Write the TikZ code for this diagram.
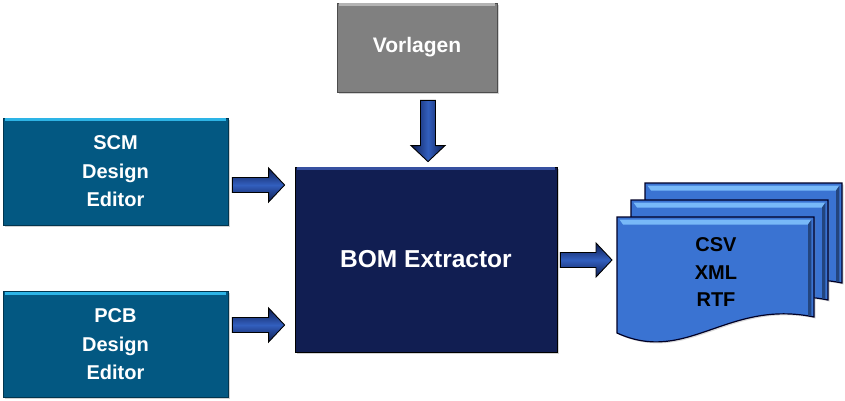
\documentclass[tikz,border=0pt]{standalone}
\usepackage{fontspec}
\setmainfont{Liberation Sans}
\usetikzlibrary{calc,shadows}
\definecolor{edblue}{RGB}{3,88,130}
\definecolor{edlight}{RGB}{45,180,230}
\definecolor{bomblue}{RGB}{17,30,82}
\definecolor{bomlight}{RGB}{55,80,160}
\definecolor{vgray}{RGB}{128,128,128}
\definecolor{vlight}{RGB}{180,180,180}
\definecolor{docblue}{RGB}{58,115,210}
\definecolor{doclight}{RGB}{120,185,248}
\definecolor{arrdark}{RGB}{14,28,80}
\definecolor{arrmid}{RGB}{50,95,190}
\tikzset{
  box/.style={rectangle, inner sep=0pt, align=center, text=white,
    font=\bfseries\fontsize{20}{28.5}\selectfont,
    drop shadow={shadow xshift=1.5pt, shadow yshift=-1.5pt, opacity=0.35}},
  editorbox/.style={box, fill=edblue, draw=edblue!60!black, line width=0.8pt},
  bombox/.style={box, fill=bomblue, draw=black, line width=0.8pt,
    font=\bfseries\fontsize{24.5}{28}\selectfont},
  vbox/.style={box, fill=vgray, draw=black!70, line width=0.8pt,
    font=\bfseries\fontsize{21}{26}\selectfont},
  blockarrowh/.style={draw=black, line width=0.9pt, line join=miter,
    top color=arrdark, bottom color=arrdark, middle color=arrmid},
  blockarrowv/.style={draw=black, line width=0.9pt, line join=miter,
    left color=arrdark, right color=arrdark, middle color=arrmid},
  docsheetstyle/.style={fill=docblue, draw=black!85!blue, line width=1.2pt,
    drop shadow={shadow xshift=1.5pt, shadow yshift=-1.5pt, opacity=0.3}},
  doctext/.style={inner sep=0pt, align=center, text=black,
    font=\bfseries\fontsize{20}{27.5}\selectfont}
}
\newcommand\bevelbox[2]{%
  \draw[#2, line width=3pt] ($(#1.north west)+(2,2.2)$) -- ($(#1.north east)+(-2,2.2)$);}
\newcommand\harrowpath[2]{%
  \draw[blockarrowh] ($(#1)+(0,-7.5)$) -- ($(#2)+(-16,-7.5)$) -- ($(#2)+(-16,-17)$)
    -- (#2) -- ($(#2)+(-16,17)$) -- ($(#2)+(-16,7.5)$) -- ($(#1)+(0,7.5)$) -- cycle;}
\newcommand\varrowpath[2]{%
  \draw[blockarrowv] ($(#1)+(-7.5,0)$) -- ($(#2)+(-7.5,-16)$) -- ($(#2)+(-17,-16)$)
    -- (#2) -- ($(#2)+(17,-16)$) -- ($(#2)+(7.5,-16)$) -- ($(#1)+(7.5,0)$) -- cycle;}
\newcommand\docsheet[1]{%
  \begin{scope}[shift={#1}]
    \draw[docsheetstyle] (617,217) -- (814,217) -- (814,317)
      .. controls (727,299) and (687,365) .. (617,333) -- cycle;
    \fill[doclight] (619.5,219.6) -- (811.5,219.6) -- (808,224.5) -- (623,224.5) -- cycle;
    \fill[black!40!docblue] (811.4,219.6) -- (811.4,316) -- (808,315) -- (808,224.5) -- cycle;
  \end{scope}}
\begin{document}
\begin{tikzpicture}[x=1pt, y=-1pt]
  \useasboundingbox (0,0) rectangle (845,400);
  % boxes
  \node[editorbox, minimum width=225pt, minimum height=107pt] (scm) at (115.5,171.5) {SCM\\Design\\Editor};
  \bevelbox{scm}{edlight}
  \node[editorbox, minimum width=225pt, minimum height=106pt] (pcb) at (115.5,344.5) {PCB\\Design\\Editor};
  \bevelbox{pcb}{edlight}
  \node[vbox, minimum width=160pt, minimum height=89pt] (vorl) at (417,47.5) {Vorlagen};
  \bevelbox{vorl}{vlight}
  \node[bombox, minimum width=262pt, minimum height=185pt] (bom) at (426,259.5) {BOM Extractor};
  \bevelbox{bom}{bomlight}
  % documents
  \docsheet{(28,-34)}
  \docsheet{(14,-17)}
  \docsheet{(0,0)}
  \coordinate (docleft) at (617,260);
  \node[doctext] (doc) at (716,272.5) {CSV\\XML\\RTF};
  % arrows
  \coordinate (a1s) at ($(scm.east)+(4,13.5)$);
  \coordinate (a1e) at ($(bom.west |- a1s)+(-10,0)$);
  \harrowpath{a1s}{a1e}
  \coordinate (a2s) at ($(pcb.east)+(4,-19.5)$);
  \coordinate (a2e) at ($(bom.west |- a2s)+(-10,0)$);
  \harrowpath{a2s}{a2e}
  \coordinate (a3s) at ($(bom.east)+(3,0.5)$);
  \coordinate (a3e) at ($(docleft |- a3s)+(-5,0)$);
  \harrowpath{a3s}{a3e}
  \coordinate (a4s) at ($(vorl.south)+(11,8)$);
  \coordinate (a4e) at ($(a4s |- bom.north)+(0,-5)$);
  \varrowpath{a4s}{a4e}
\end{tikzpicture}
\end{document}
